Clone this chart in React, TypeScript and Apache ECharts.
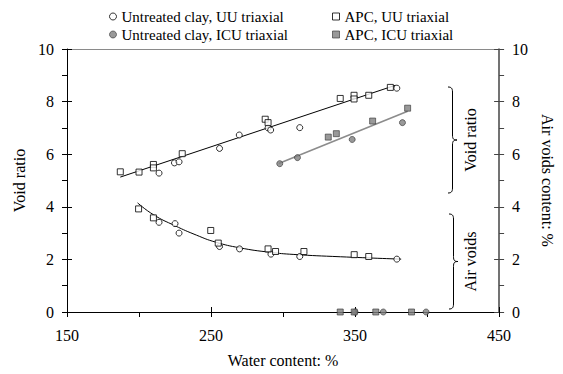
import React, { useEffect, useRef } from "react";
import * as echarts from "echarts";

// Water content (%) and void ratio, UU triaxial specimens
const uuClayVoidW = [213.9, 224.6, 227.8, 255.9, 269.6, 289.6, 291.4, 311.6, 379];
const uuClayVoid = [5.28, 5.67, 5.71, 6.22, 6.73, 7.0, 6.92, 7.01, 8.51];
const apcUuVoidW = [187, 200, 210, 210, 230, 287.6, 289.6, 339.7, 349.3, 349.3, 359.5, 374.5];
const apcUuVoid = [5.33, 5.32, 5.61, 5.48, 6.02, 7.33, 7.2, 8.12, 8.24, 8.1, 8.24, 8.54];

// Void ratio, ICU triaxial specimens
const icuClayVoidW = [297.7, 310, 348, 382.9];
const icuClayVoid = [5.64, 5.87, 6.56, 7.2];
const apcIcuVoidW = [331.4, 337, 362.2, 386.5];
const apcIcuVoid = [6.65, 6.78, 7.26, 7.75];

// Air voids content (%)
const uuClayAirW = [213.9, 225, 227.8, 255.9, 269.8, 291.6, 311.6, 379];
const uuClayAir = [3.41, 3.36, 3.0, 2.49, 2.4, 2.2, 2.11, 2.01];
const apcUuAirW = [199.7, 210, 249.8, 255, 289.6, 294.8, 314.5, 349.4, 359.5];
const apcUuAir = [3.92, 3.58, 3.1, 2.62, 2.4, 2.3, 2.3, 2.18, 2.11];
const icuClayAirW = [350, 369.6, 399.3];
const icuClayAir = [0, 0, 0];
const apcIcuAirW = [339.7, 349.4, 364.4, 389.2];
const apcIcuAir = [0, 0, 0, 0];

// Trend lines
const uuFitW = [187, 378];
const uuFit = [5.13, 8.62];
const icuFitW = [297, 386.5];
const icuFit = [5.65, 7.63];
const airFitW = [199, 210, 225, 240, 253, 270, 291, 307, 340, 382];
const airFit = [4.15, 3.7, 3.28, 2.92, 2.66, 2.44, 2.27, 2.19, 2.1, 2.01];

const xTicks = { min: 150, max: 450, interval: 100 };
const yTicks = { min: 0, max: 10, interval: 2 };

const NAMES = {
  clayUU: "Untreated clay, UU triaxial",
  clayICU: "Untreated clay, ICU triaxial",
  apcUU: "APC, UU triaxial",
  apcICU: "APC, ICU triaxial",
};

const FONT = "'Liberation Serif', 'Times New Roman', Times, serif";
const FS = 15;
const AFS = 16;

const zip = (xs: number[], ys: number[]) => xs.map((x, i) => [x, ys[i]]);

const openStyle = { color: "#ffffff", borderColor: "#000000", borderWidth: 1 };
const filledStyle = { color: "#808080", borderColor: "#333333", borderWidth: 0.8 };

// Curly braces next to the two groups of curves
function bracePath(x0: number, top: number, bottom: number, w: number) {
  const mx = x0 + w / 2;
  const tip = x0 + w;
  const mid = (top + bottom) / 2;
  const r = 5;
  return (
    `M${x0},${top} C${x0 + 3},${top} ${mx},${top + 1} ${mx},${top + r} ` +
    `L${mx},${mid - r} C${mx},${mid - 1} ${mx + 1},${mid} ${tip},${mid} ` +
    `C${mx + 1},${mid} ${mx},${mid + 1} ${mx},${mid + r} ` +
    `L${mx},${bottom - r} C${mx},${bottom - 1} ${x0 + 3},${bottom} ${x0},${bottom}`
  );
}

echarts.graphic.registerShape("braceVoid", echarts.graphic.extendPath(bracePath(448, 87, 193, 9), {}));
echarts.graphic.registerShape("braceAir", echarts.graphic.extendPath(bracePath(449, 214, 309, 9), {}));

function scatter(name: string, xs: number[], ys: number[], yAxisIndex: number, symbol: string, style: any) {
  return {
    type: "scatter",
    name,
    data: zip(xs, ys),
    xAxisIndex: 0,
    yAxisIndex,
    symbol,
    symbolSize: 6,
    itemStyle: style,
    clip: false,
    z: 5,
  };
}

function fitLine(xs: number[], ys: number[], yAxisIndex: number, color: string, width: number, smooth: boolean) {
  return {
    type: "line",
    data: zip(xs, ys),
    xAxisIndex: 0,
    yAxisIndex,
    symbol: "none",
    smooth,
    lineStyle: { color, width },
    silent: true,
    z: 3,
  };
}

const legendText = { color: "#000", fontFamily: FONT, fontSize: FS };
const axisText = { color: "#000", fontFamily: FONT, fontSize: AFS };

const option: any = {
  animation: false,
  backgroundColor: "#ffffff",
  textStyle: { fontFamily: FONT },
  grid: { left: 67, right: 52, top: 49, bottom: 62 },
  legend: [
    {
      left: 104,
      top: 4,
      orient: "vertical",
      itemWidth: 7,
      itemHeight: 7,
      itemGap: 3,
      selectedMode: false,
      textStyle: legendText,
      data: [
        { name: NAMES.clayUU, icon: "circle", itemStyle: openStyle },
        { name: NAMES.clayICU, icon: "circle", itemStyle: filledStyle },
      ],
    },
    {
      left: 327,
      top: 4,
      orient: "vertical",
      itemWidth: 7,
      itemHeight: 7,
      itemGap: 3,
      selectedMode: false,
      textStyle: legendText,
      data: [
        { name: NAMES.apcUU, icon: "rect", itemStyle: openStyle },
        { name: NAMES.apcICU, icon: "rect", itemStyle: filledStyle },
      ],
    },
  ],
  xAxis: [
    {
      type: "value",
      ...xTicks,
      position: "bottom",
      name: "Water content: %",
      nameLocation: "middle",
      nameGap: 40,
      nameTextStyle: axisText,
      axisLine: { show: true, onZero: false, lineStyle: { color: "#000", width: 1 } },
      axisTick: { show: true, inside: false, length: 5, lineStyle: { color: "#000" } },
      minorTick: { show: true, splitNumber: 2, length: 5, lineStyle: { color: "#000" } },
      axisLabel: { ...axisText, margin: 15 },
      splitLine: { show: false },
    },
    {
      type: "value",
      ...xTicks,
      position: "bottom",
      axisLine: { show: false, onZero: false },
      axisTick: { show: true, inside: true, length: 5, lineStyle: { color: "#000" } },
      axisLabel: { show: false },
      splitLine: { show: false },
    },
    {
      type: "value",
      ...xTicks,
      position: "top",
      axisLine: { show: true, onZero: false, lineStyle: { color: "#8a8a8a", width: 1 } },
      axisTick: { show: false },
      axisLabel: { show: false },
      splitLine: { show: false },
    },
  ],
  yAxis: [
    {
      type: "value",
      ...yTicks,
      position: "left",
      name: "Void ratio",
      nameLocation: "middle",
      nameGap: 38,
      nameTextStyle: axisText,
      axisLine: { show: true, onZero: false, lineStyle: { color: "#000", width: 1 } },
      axisTick: { show: true, inside: false, length: 5, lineStyle: { color: "#000" } },
      minorTick: { show: true, splitNumber: 2, length: 5, lineStyle: { color: "#000" } },
      axisLabel: { ...axisText, margin: 13 },
      splitLine: { show: false },
    },
    {
      type: "value",
      ...yTicks,
      position: "right",
      name: "Air voids content: %",
      nameLocation: "middle",
      nameRotate: -90,
      nameGap: 38,
      nameTextStyle: axisText,
      axisLine: { show: true, onZero: false, lineStyle: { color: "#444", width: 1.5 } },
      axisTick: { show: true, inside: false, length: 5, lineStyle: { color: "#444" } },
      minorTick: { show: true, splitNumber: 2, length: 5, lineStyle: { color: "#444" } },
      axisLabel: { ...axisText, margin: 13 },
      splitLine: { show: false },
    },
    {
      type: "value",
      ...yTicks,
      position: "left",
      axisLine: { show: false, onZero: false },
      axisTick: { show: true, inside: true, length: 5, lineStyle: { color: "#000" } },
      axisLabel: { show: false },
      splitLine: { show: false },
    },
    {
      type: "value",
      ...yTicks,
      position: "right",
      axisLine: { show: false, onZero: false },
      axisTick: { show: true, inside: true, length: 5, lineStyle: { color: "#444" } },
      axisLabel: { show: false },
      splitLine: { show: false },
    },
  ],
  series: [
    fitLine(uuFitW, uuFit, 0, "#000000", 1, false),
    fitLine(icuFitW, icuFit, 0, "#8c8c8c", 1.6, false),
    fitLine(airFitW, airFit, 1, "#000000", 1, true),
    scatter(NAMES.clayUU, uuClayVoidW, uuClayVoid, 0, "circle", openStyle),
    scatter(NAMES.apcUU, apcUuVoidW, apcUuVoid, 0, "rect", openStyle),
    scatter(NAMES.clayICU, icuClayVoidW, icuClayVoid, 0, "circle", filledStyle),
    scatter(NAMES.apcICU, apcIcuVoidW, apcIcuVoid, 0, "rect", filledStyle),
    scatter(NAMES.clayUU, uuClayAirW, uuClayAir, 1, "circle", openStyle),
    scatter(NAMES.apcUU, apcUuAirW, apcUuAir, 1, "rect", openStyle),
    scatter(NAMES.clayICU, icuClayAirW, icuClayAir, 1, "circle", filledStyle),
    scatter(NAMES.apcICU, apcIcuAirW, apcIcuAir, 1, "rect", filledStyle),
  ],
  graphic: [
    { type: "braceVoid", style: { stroke: "#000", fill: null, lineWidth: 1 }, z: 10 },
    { type: "braceAir", style: { stroke: "#000", fill: null, lineWidth: 1 }, z: 10 },
    {
      type: "text",
      x: 470,
      y: 140,
      rotation: Math.PI / 2,
      style: { text: "Void ratio", fill: "#000", fontSize: AFS, fontFamily: FONT, align: "center", verticalAlign: "middle" },
      z: 10,
    },
    {
      type: "text",
      x: 470,
      y: 261.5,
      rotation: Math.PI / 2,
      style: { text: "Air voids", fill: "#000", fontSize: AFS, fontFamily: FONT, align: "center", verticalAlign: "middle" },
      z: 10,
    },
  ],
};

export default function App() {
  const ref = useRef<HTMLDivElement>(null);
  useEffect(() => {
    const chart = echarts.init(ref.current!, null, { renderer: "svg" });
    chart.setOption(option);
    return () => chart.dispose();
  }, []);
  return (
    <div
      ref={ref}
      style={{ position: "absolute", left: 0, top: 0, width: 563, height: 374 }}
    />
  );
}
